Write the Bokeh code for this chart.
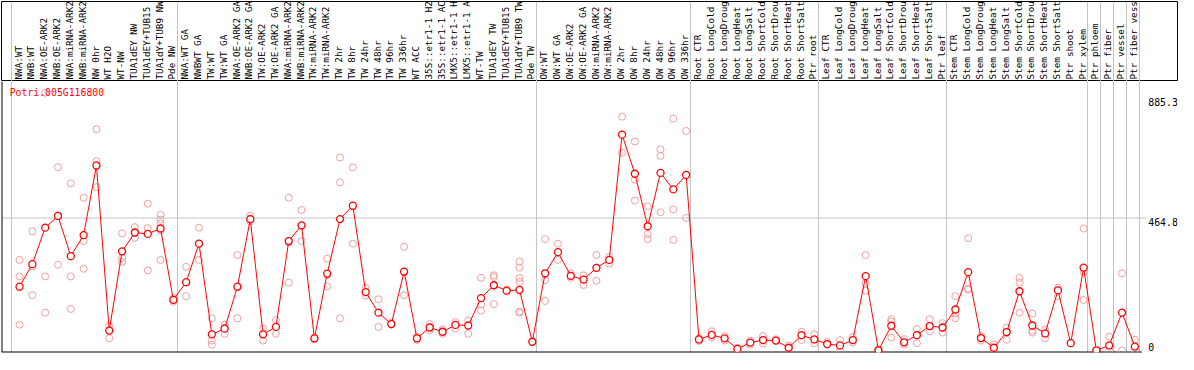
import math
from bokeh.plotting import figure
from bokeh.models import (Label, Range1d, LinearAxis, FixedTicker, CustomJSTickFormatter,
                          ColumnDataSource)
from bokeh.layouts import column
from bokeh.embed import file_html
from bokeh.resources import INLINE
from bokeh.core.properties import value

gene_id = "Potri.005G116800"

group_nw = ["NWA:WT", "NWB:WT", "NWA:OE-ARK2", "NWB:OE-ARK2", "NWA:miRNA-ARK2",
            "NWB:miRNA-ARK2", "NW 0hr", "WT H2O", "WT-NW", "TUA1dEY NW",
            "TUA1dEY+TUB15", "TUA1dY+TUB9 NW", "Pde NW"]
group_tw = ["NWA:WT GA", "NWBWT GA", "TW:WT", "TW:WT GA", "NWA:OE-ARK2 GA",
            "NWB:OE-ARK2 GA", "TW:OE-ARK2", "TW:OE-ARK2 GA", "NWA:miRNA-ARK2",
            "NWB:miRNA-ARK2", "TW:miRNA-ARK2", "TW:miRNA-ARK2", "TW 2hr", "TW 8hr",
            "TW 24hr", "TW 48hr", "TW 96hr", "TW 336hr", "WT ACC", "35S::etr1-1 H2",
            "35S::etr1-1 AC", "LMX5::etr1-1 H", "LMX5::etr1-1 A", "WT-TW",
            "TUA1dEY TW", "TUA1dEY+TUB15", "TUA1dY+TUB9 TW", "Pde TW"]
group_ow = ["OW:WT", "OW:WT GA", "OW:OE-ARK2", "OW:OE-ARK2 GA", "OW:miRNA-ARK2",
            "OW:miRNA-ARK2", "OW 2hr", "OW 8hr", "OW 24hr", "OW 48hr", "OW 96hr",
            "OW 336hr"]
group_root = ["Root CTR", "Root LongCold", "Root LongDroug", "Root LongHeat",
              "Root LongSalt", "Root ShortCold", "Root ShortDrou", "Root ShortHeat",
              "Root ShortSalt", "Ptr root"]
group_leaf = ["Leaf CTR", "Leaf LongCold", "Leaf LongDroug", "Leaf LongHeat",
              "Leaf LongSalt", "Leaf ShortCold", "Leaf ShortDrou", "Leaf ShortHeat",
              "Leaf ShortSalt", "Ptr leaf"]
group_stem = ["Stem CTR", "Stem LongCold", "Stem LongDroug", "Stem LongHeat",
              "Stem LongSalt", "Stem ShortCold", "Stem ShortDrou", "Stem ShortHeat",
              "Stem ShortSalt", "Ptr shoot", "Ptr xylem"]
group_phloem = ["Ptr phloem"]
group_fiber = ["Ptr fiber"]
group_vessel = ["Ptr vessel"]
group_fv = ["Ptr fiber vess"]

groups = [group_nw, group_tw, group_ow, group_root, group_leaf, group_stem,
          group_phloem, group_fiber, group_vessel, group_fv]

means = [224, 303, 431, 472, 331, 405, 649, 70, 348, 414,
         409, 428, 178, 240, 375, 57, 77, 224, 461, 57,
         83, 384, 439, 43, 270, 461, 508, 205, 133, 93,
         277, 43, 81, 66, 90, 88, 184, 229, 210, 213,
         31, 271, 345, 262, 249, 290, 318, 757, 620, 436,
         623, 565, 616, 39, 55, 43, 6, 28, 37, 35,
         10, 54, 39, 23, 18, 37, 261, 1, 87, 29,
         54, 86, 81, 144, 275, 44, 10, 65, 208, 88,
         60, 211, 26, 291, 1, 18, 133, 14]

replicates = [
    [318, 260, 91], [418, 295, 194], [904, 260, 133], [643, 301, 474],
    [586, 260, 146], [536, 384, 287], [776, 664, 573], [85, 43, 70],
    [411, 325, 311], [433, 395, 414], [515, 429, 281], [476, 459, 446, 420, 318],
    [184, 171, 178], [294, 191, 238], [431, 318, 375], [113, 35, 20],
    [91, 59, 80], [335, 113, 224], [473, 453, 462], [77, 35, 57],
    [107, 59, 83], [536, 238, 379], [493, 384, 439], [43, 40, 46],
    [322, 225, 265], [677, 590, 113], [642, 375, 506], [219, 193],
    [180, 83], [98, 91], [364, 194, 275], [43, 50, 37],
    [93, 71], [74, 59], [100, 77], [105, 59],
    [255, 162, 140], [264, 258, 163], [214, 208], [312, 291, 255, 241, 137, 133],
    [31], [391, 247, 174], [375, 318, 345], [271, 255],
    [264, 230], [335, 245, 290], [329, 305], [820, 694, 757],
    [733, 599, 526], [506, 408, 391], [705, 683, 485], [813, 495, 388],
    [770, 465, 616], [44, 34], [68, 46], [51, 35],
    [6, 10], [35, 21], [51, 24], [35, 40],
    [18, 7], [66, 37], [57, 26], [24, 30],
    [37, 0], [48, 29], [335, 236, 210], [1, 5],
    [110, 102, 46], [40, 21], [76, 26, 54], [110, 68],
    [96, 63], [191, 130, 113], [394, 214, 217], [51, 35],
    [21, 7], [81, 38], [255, 238, 133], [130, 70, 63],
    [74, 43], [221, 191], [26], [428, 275, 177],
    [1], [49, 1], [271, 1], [38, 1],
]

y_ticks = [0, 464.8, 885.3]

# ---------------------------------------------------------------- layout
W = 1178
TOP_H, BOT_H = 81, 273
FRAME_W = 1176
X0 = -0.746
PX_PER_COL = 12.82
X1 = X0 + FRAME_W / PX_PER_COL
PT_OFF, LAB_OFF = 0.66, 0.55
Y0, Y1 = -6.7, 943.4

categories = [c for g in groups for c in g]
bounds = [0]
for g in groups:
    bounds.append(bounds[-1] + len(g))
n_cat = len(categories)

GRID = "#c4c4c4"
RED = "#ff0000"
PINK = "#f0a0a0"
FONT = "DejaVu Sans Mono"

# ---------------- top: sample labels
top = figure(width=W, height=TOP_H, output_backend="svg", toolbar_location=None,
             x_range=Range1d(X0, X1), y_range=Range1d(0, 1),
             x_axis_location=None, y_axis_location=None, title=None,
             min_border_left=1, min_border_right=W - 1 - FRAME_W,
             min_border_top=1, min_border_bottom=0)
top.grid.visible = False
top.outline_line_color = "black"
top.outline_line_width = 1
top.vspan(x=bounds, line_color=GRID, line_width=1)

lab_ticks = [i + LAB_OFF for i in range(n_cat)]
lab_axis = LinearAxis(
    ticker=FixedTicker(ticks=lab_ticks),
    formatter=CustomJSTickFormatter(args=dict(labels=categories, off=LAB_OFF),
                                    code="return labels[Math.round(tick - off)];"),
    fixed_location=0,
    axis_line_color=None, major_tick_line_color=None, minor_tick_line_color=None,
    major_tick_in=0, major_tick_out=0,
    major_label_orientation=math.pi / 2, major_label_standoff=2,
    major_label_text_font=FONT, major_label_text_font_size="9.3px",
    major_label_text_color="black")
top.add_layout(lab_axis, "above")

# ---------------- bottom: data
bot = figure(width=W, height=BOT_H, output_backend="svg", toolbar_location=None,
             x_range=Range1d(X0, X1), y_range=Range1d(Y0, Y1),
             x_axis_location=None, y_axis_location=None, title=None,
             min_border_left=1, min_border_right=W - 1 - FRAME_W,
             min_border_top=0, min_border_bottom=2)
bot.grid.visible = False
bot.outline_line_color = None

# value grid line (stops just before its label) and group separators
bot.segment(x0=[X0], y0=[y_ticks[1]], x1=[n_cat + 0.54], y1=[y_ticks[1]],
            line_color=GRID, line_width=1)
bot.vspan(x=bounds, line_color=GRID, line_width=1)
# plot-area frame: left and bottom edges (top edge is the label box)
bot.segment(x0=[X0], y0=[Y0], x1=[X0], y1=[Y1], line_color="black", line_width=2)
bot.segment(x0=[X0], y0=[Y0], x1=[n_cat + 0.2], y1=[Y0], line_color="black", line_width=2)

rx = [i + PT_OFF for i, reps in enumerate(replicates) for _ in reps]
ry = [v for reps in replicates for v in reps]
bot.scatter(rx, ry, marker="circle", size=7, fill_color=None, line_color=PINK, line_width=1)

mx = [i + PT_OFF for i in range(len(means))]
bot.line(mx, means, line_color=RED, line_width=1)
bot.scatter(mx, means, marker="circle", size=7, fill_color="white", line_color=RED,
            line_width=1.3)

# value labels at the right: upper ones hang below their level, "0" sits above it
lab_x = n_cat + 0.71
upper = [t for t in y_ticks if t > 0]
lower = [t for t in y_ticks if t == 0]
bot.text(x=[lab_x] * len(upper), y=upper, text=[f"{t:g}" for t in upper],
         text_align="left", text_baseline="top", text_font=value(FONT),
         text_font_size="9.8px", text_color="black")
bot.text(x=[lab_x] * len(lower), y=lower, text=[f"{t:g}" for t in lower],
         text_align="left", text_baseline="bottom", text_font=value(FONT),
         text_font_size="9.8px", text_color="black")

bot.add_layout(Label(x=X0 + 0.64, y=905, text=gene_id, text_align="left",
                     text_baseline="middle", text_font=FONT, text_font_size="9.8px",
                     text_color=RED))

layout = column(top, bot, spacing=0)
open("out.html", "w").write(file_html(layout, INLINE))
